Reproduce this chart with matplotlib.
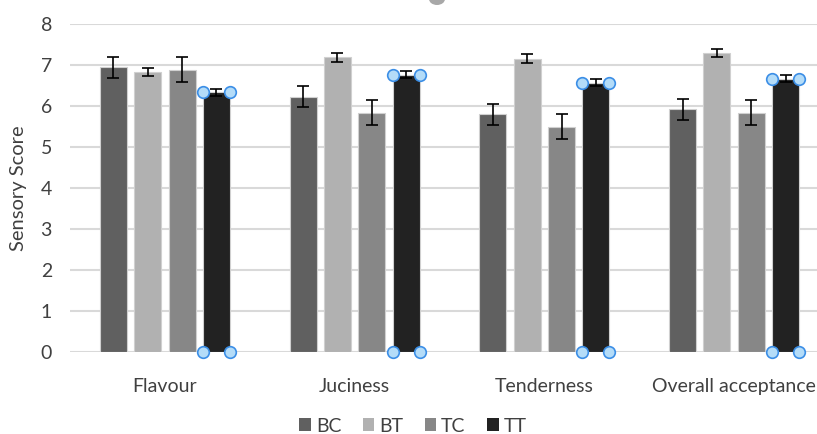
import matplotlib
matplotlib.use("Agg")
import matplotlib.pyplot as plt
import numpy as np
from matplotlib.patches import Patch, Ellipse

categories = ["Flavour", "Juciness", "Tenderness", "Overall acceptance"]
series = ["BC", "BT", "TC", "TT"]
BC = [6.94, 6.23, 5.80, 5.92]
BT = [6.83, 7.19, 7.15, 7.30]
TC = [6.89, 5.84, 5.50, 5.84]
TT = [6.33, 6.76, 6.57, 6.67]
BC_err = [0.25, 0.26, 0.26, 0.26]
BT_err = [0.10, 0.11, 0.11, 0.10]
TC_err = [0.30, 0.30, 0.30, 0.30]
TT_err = [0.09, 0.085, 0.09, 0.09]
yticks = [0, 1, 2, 3, 4, 5, 6, 7, 8]

colors = ["#606060", "#b1b1b1", "#878787", "#222222"]
values = [BC, BT, TC, TT]
errors = [BC_err, BT_err, TC_err, TT_err]

plt.rcParams['font.family'] = ['Lato', 'DejaVu Sans']

W, H = 817, 434
fig = plt.figure(figsize=(W / 100, H / 100), dpi=100)
left, right, bottom, top = 70, 829, 352, 24
ax = fig.add_axes([left / W, (H - bottom) / H, (right - left) / W, (bottom - top) / H])

x = np.arange(len(categories))
width = 0.142
step = 0.181
offsets = [-1.5 * step, -0.5 * step, 0.5 * step, 1.5 * step]

for i, (vals, errs, col) in enumerate(zip(values, errors, colors)):
    pos = x + offsets[i]
    ax.bar(pos, vals, width=width, color=col, edgecolor="#d0d0d0", linewidth=0.8, zorder=3)
    ax.errorbar(pos, vals, yerr=errs, fmt="none", ecolor="black", elinewidth=1.2,
                capsize=4.5, capthick=1.2, zorder=4)

# selection handles on TT series
tt_pos = x + offsets[3]
for p, v in zip(tt_pos, TT):
    xs = [p - width / 2, p + width / 2, p - width / 2, p + width / 2]
    ys = [v, v, 0, 0]
    ax.scatter(xs, ys, s=70, facecolor="#b4dcf8", edgecolor="#3b8ee6", linewidth=1.2,
               zorder=6, clip_on=False)

ax.set_xlim(-0.5, len(categories) - 0.5)
ax.set_ylim(0, 8)
ax.set_yticks(yticks)
ax.yaxis.grid(True, color="#d9d9d9", linewidth=1.5, zorder=0)
ax.set_axisbelow(True)
for s in ax.spines.values():
    s.set_visible(False)
ax.tick_params(axis="both", length=0, labelsize=14, colors="#404040")
ax.tick_params(axis="y", pad=13)
ax.tick_params(axis="x", pad=19)
ax.set_xticks(x)
ax.set_xticklabels(categories)
ax.set_ylabel("Sensory Score", fontsize=14.5, color="#404040")
ax.yaxis.set_label_coords(-0.057, 0.5)

handles = [Patch(facecolor=c, edgecolor="none") for c in colors]
fig.legend(handles, series, loc="center", bbox_to_anchor=(413 / W, 1 - 426 / H), ncol=4,
           frameon=False, fontsize=14, handlelength=0.6, handleheight=0.6,
           handletextpad=0.25, columnspacing=1.1, labelcolor="#404040")

# partially visible title handle at top
fig.patches.append(Ellipse((437 / W, 1 + 1 / H), 16 / W, 12 / H, transform=fig.transFigure,
                           facecolor="#a8a8a8", edgecolor="none"))

fig.savefig("out.png", dpi=100)
